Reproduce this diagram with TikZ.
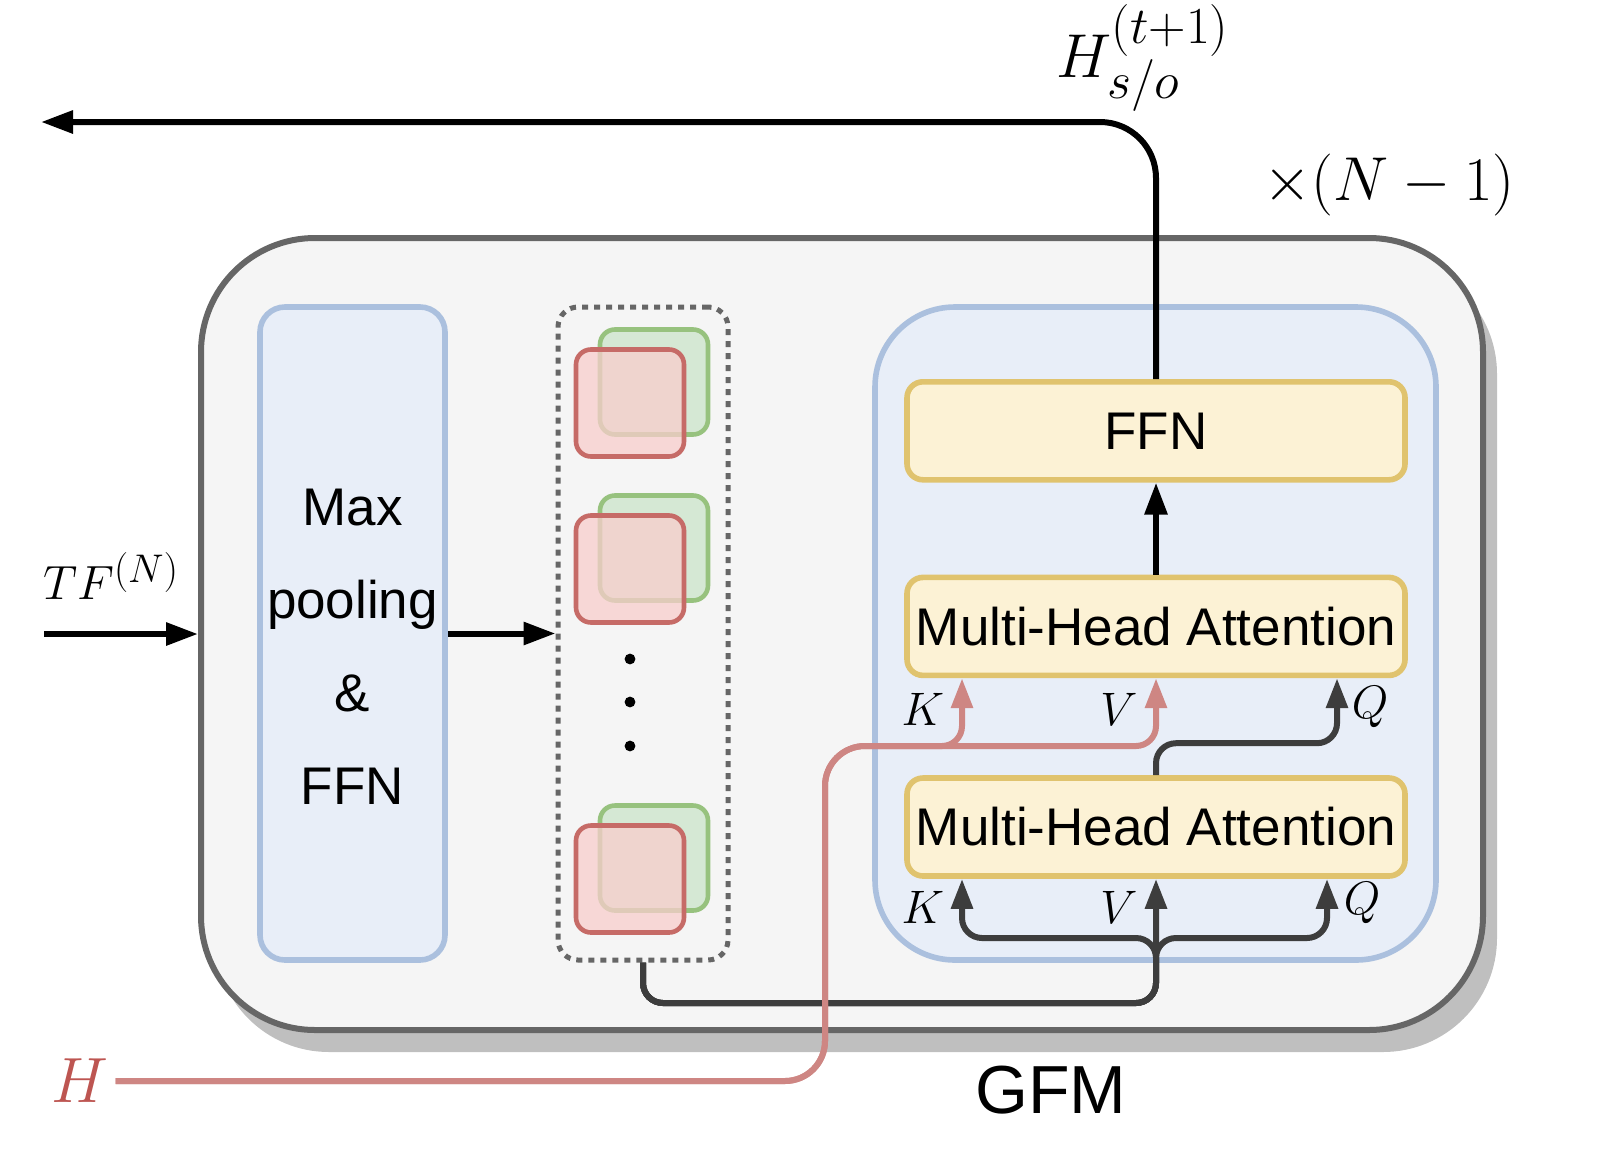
\RequirePackage{fix-cm}
\documentclass[tikz,border=0pt]{standalone}
\usepackage{fontspec}
\setsansfont{Liberation Sans}
\usetikzlibrary{positioning,arrows.meta,shadows}

\definecolor{gfmfill}{HTML}{F5F5F5}
\definecolor{gfmline}{HTML}{666666}
\definecolor{shadowgray}{HTML}{BFBFBF}
\definecolor{bluefill}{HTML}{E8EEF8}
\definecolor{blueline}{HTML}{ABC0DE}
\definecolor{yelfill}{HTML}{FCF2D5}
\definecolor{yelline}{HTML}{E0C36E}
\definecolor{redfill}{HTML}{F8CECC}
\definecolor{redline}{HTML}{C66B67}
\definecolor{grnfill}{HTML}{D5E8D4}
\definecolor{grnline}{HTML}{97C27E}
\definecolor{hred}{HTML}{BD5551}
\definecolor{redcon}{HTML}{CE8683}
\definecolor{darkcon}{HTML}{3D3D3D}

\newcommand{\bigscript}[2]{\mbox{\fontsize{#1}{#1}\selectfont$#2$}}

\tikzset{
  boxtext/.style={font=\sffamily\fontsize{26.5}{46.5}\selectfont},
  gfmbox/.style={draw=gfmline, fill=gfmfill, line width=3pt, rounded corners=57pt,
    drop shadow={shadow xshift=7pt, shadow yshift=-11pt, fill=shadowgray, opacity=1}},
  bluebox/.style={draw=blueline, fill=bluefill, line width=2.8pt},
  featbox/.style={draw=gfmline, line width=2.5pt, dash pattern=on 3pt off 3pt, rounded corners=10pt},
  yelbox/.style={draw=yelline, fill=yelfill, line width=2.8pt, rounded corners=8pt,
    minimum width=249pt, minimum height=49pt, boxtext},
  redsq/.style={draw=redline, fill=redfill, fill opacity=0.75, line width=2.3pt, rounded corners=7.5pt,
    minimum width=54pt, minimum height=53.5pt},
  greensq/.style={draw=grnline, fill=grnfill, line width=2.3pt, rounded corners=7.5pt,
    minimum width=54pt, minimum height=52.5pt},
  blk/.style={line width=3pt, -{Triangle[length=16pt,width=11pt]}},
  darkarr/.style={draw=darkcon, line width=3pt, rounded corners=10pt, -{Triangle[length=15pt,width=10.5pt]}},
  redarr/.style={draw=redcon, line width=3pt, -{Triangle[length=15pt,width=10.5pt]}},
  mathlbl/.style={font=\fontsize{23.5}{28}\selectfont}
}

\begin{document}
\begin{tikzpicture}[x=0.5pt, y=-0.5pt]
\useasboundingbox (0,0) rectangle (1610,1162);

% GFM block
\node[gfmbox, minimum width=641pt, minimum height=396pt] (gfm) at (842,634) {};
\node[font=\sffamily\fontsize{34}{40}\selectfont] (gfmlbl) at (1051,1090) {GFM};

\node[bluebox, rounded corners=12.5pt, minimum width=92.5pt, minimum height=326.5pt] (pool) at (352.5,633.5) {};
\node[boxtext, align=center, yshift=-6.75pt] (pooltxt) at (pool.center) {Max\\pooling\\\&\\FFN};

\node[featbox, minimum width=85pt, minimum height=326.5pt] (feat) at (643,633.5) {};
\node[bluebox, rounded corners=40pt, minimum width=280.5pt, minimum height=326.5pt] (att) at (1155.5,633.5) {};

% stacked features
\foreach \yy [count=\i] in {403,569,879} {
  \node[greensq] (g\i) at (654,\yy-21) {};
  \node[redsq] (r\i) at (630,\yy) {};
}
\foreach \yy in {659,702,746}
  \fill (630,\yy) circle (2.7pt);

\node[yelbox] (mha1) at (1156,827) {Multi-Head Attention};
\node[yelbox, above=48.5pt of mha1] (mha2) {Multi-Head Attention};
\node[yelbox, above=46pt of mha2] (ffn) {FFN};

%anchor points for the paths
\coordinate (tfin) at (44,634);
\coordinate (outL) at (41,122);
\coordinate (bend) at (1156,1003);
\coordinate (fork) at (1156,938);
\coordinate (hturn) at (825,746);
\coordinate (k1) at ([xshift=-97pt]mha1.south);
\coordinate (q1) at ([xshift=85.5pt]mha1.south);
\coordinate (k2) at ([xshift=-97pt]mha2.south);
\coordinate (q2) at ([xshift=90.5pt]mha2.south);

\node[font=\fontsize{32}{36}\selectfont, text=hred] (hlbl) at (80,1081) {$H$};

\draw[blk] (tfin) -- (gfm.west);
\draw[blk] (pool.east) -- (feat.west);
\draw[blk] (mha2.north) -- (ffn.south);
\draw[blk, rounded corners=28pt] (ffn.north) |- (outL);

\draw[darkarr] (feat.south) |- (bend) -- (mha1.south);
\draw[darkarr] (feat.south) |- (bend) -- (fork) -| (k1);
\draw[darkarr] (feat.south) |- (bend) -- (fork) -| (q1);
\draw[darkarr] (mha1.north) -- ++(0,-32) -| (q2);

\draw[redarr] (hlbl.east) [rounded corners=20pt] -| (hturn) [rounded corners=10pt] -| (k2);
\draw[redarr] (hlbl.east) [rounded corners=20pt] -| (hturn) [rounded corners=10pt] -| (mha2.south);

% labels
\node[mathlbl] (kl1) at ([shift={(-19.5pt,-14.5pt)}]k1) {$K$};
\node[mathlbl] (vl1) at ([shift={(-18.5pt,-14.5pt)}]mha1.south) {$V$};
\node[mathlbl] (ql1) at ([shift={(17.5pt,-12pt)}]q1) {$Q$};
\node[mathlbl] (kl2) at ([shift={(-19.5pt,-15.5pt)}]k2) {$K$};
\node[mathlbl] (vl2) at ([shift={(-18.5pt,-15.5pt)}]mha2.south) {$V$};
\node[mathlbl] (ql2) at ([shift={(16.5pt,-14.5pt)}]q2) {$Q$};

\node[font=\fontsize{24}{28}\selectfont] (tflbl) at (111,576) {$TF^{\bigscript{20}{(N)}}$};
\node[font=\fontsize{31}{36}\selectfont] (outlbl) at (1143,58) {$H_{\raisebox{-3pt}{\bigscript{26}{s/o}}}^{\bigscript{26}{(t{+}1)}}$};
\node[font=\fontsize{31}{36}\selectfont] (reps) at (1389,185) {$\times(N-1)$};
\end{tikzpicture}
\end{document}
